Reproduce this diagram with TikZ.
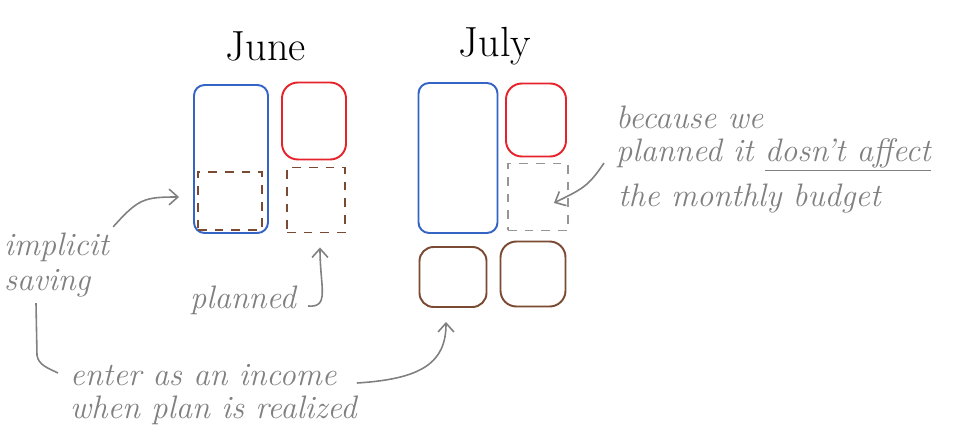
\documentclass[tikz,border=0pt]{standalone}
\usetikzlibrary{arrows.meta,calc,positioning}
\definecolor{penblue}{RGB}{52,100,196}
\definecolor{penred}{RGB}{230,34,42}
\definecolor{penbrown}{RGB}{122,74,50}
\definecolor{pengray}{RGB}{128,128,128}
\definecolor{dashgray}{RGB}{150,150,150}

\begin{document}
\begin{tikzpicture}[x=0.02cm, y=-0.02cm, >={Straight Barb[length=5pt,width=9pt]},
  every node/.style={font=\fontsize{18.5}{18.8}\selectfont\itshape, text=pengray},
  month/.style={font=\fontsize{24}{28}\selectfont, text=black},
  box/.style={draw, line width=1.1pt, inner sep=0pt, rounded corners=6pt},
  dbox/.style={box, rounded corners=0pt, dash pattern=on 5pt off 4.5pt},
  note/.style={draw=pengray, line width=0.9pt}]
  \useasboundingbox (0,0) rectangle (955,448);

  % Month titles
  \node[month] (june) at (266,46) {June};
  \node[month] (july) at (495,46) {July};

  % June: income, expense and the two saved parts
  \node[box, draw=penblue, minimum width=1.48cm, minimum height=2.96cm] (juneinc) at (231,159) {};
  \node[box, draw=penred, minimum width=1.28cm, minimum height=1.54cm, rounded corners=9pt] (juneexp) at (314,121) {};
  \node[dbox, draw=penbrown, minimum width=1.28cm, minimum height=1.16cm] (juneimp) at (230,201) {};
  \node[dbox, draw=penbrown, minimum width=1.16cm, minimum height=1.30cm] (junepl) at (316,200) {};

  % July
  \node[box, draw=penblue, minimum width=1.58cm, minimum height=3.00cm] (julyinc) at (458,158) {};
  \node[box, draw=penred, minimum width=1.20cm, minimum height=1.46cm, rounded corners=9pt] (julyexp) at (536,120) {};
  \node[dbox, draw=dashgray, minimum width=1.20cm, minimum height=1.34cm] (julyfree) at (538,197) {};
  \node[box, draw=penbrown, minimum width=1.34cm, minimum height=1.20cm, rounded corners=8pt] (julysav) at (453,277) {};
  \node[box, draw=penbrown, minimum width=1.30cm, minimum height=1.30cm, rounded corners=9pt] (julypl) at (533,274) {};

  % Notes
  \node[anchor=west, align=left] (implicit) at (-2,265) {implicit\\[1pt]saving};
  \node (planned) at (243,300) {planned};
  \node[anchor=west, align=left] (enter) at (64,395) {enter as an income\\when plan is realized};
  \node[anchor=west, align=left] (because) at (610,139) {because we\\planned it \underline{dosn't affect}};
  \node[anchor=west] (monthly) at (612,199) {the monthly budget};

  % Arrows
  \draw[note,->] ([shift={(-2,0)}]implicit.north east) .. controls +(25,-28) and +(-35,0) .. ([shift={(-18,-4)}]juneimp.west);
  \draw[note,->] ([shift={(6,6)}]planned.east) .. controls +(22,2) and +(0,40) .. ([shift={(4,14)}]junepl.south);
  \draw[note] ([shift={(38,0)}]implicit.south west) -- ++(1,52) .. controls +(1,10) and +(-8,-4) .. ([shift={(-6,-22)}]enter.west);
  \draw[note,->] ([shift={(-6,-12)}]enter.east) .. controls +(66,-4) and +(0,40) .. ([shift={(-7,14)}]julysav.south);
  \draw[note,->] ([shift={(-6,24)}]because.west) .. controls +(-16,24) and +(28,-14) .. ([shift={(-15,6)}]julyfree.east);
\end{tikzpicture}
\end{document}
